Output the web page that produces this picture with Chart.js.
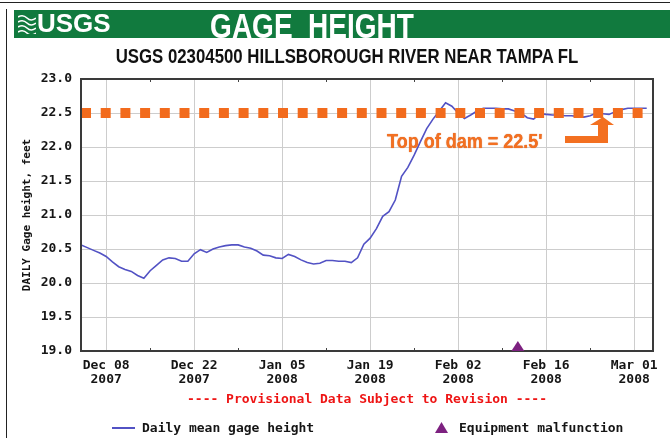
<!DOCTYPE html>
<html>
<head>
<meta charset="utf-8">
<script src="https://cdn.jsdelivr.net/npm/chart.js@4.4.1/dist/chart.umd.min.js"></script>
<style>
  body { margin: 0; background: #fff; }
  #wrap { position: relative; width: 670px; height: 438px; overflow: hidden; font-family: "Liberation Sans", Arial, sans-serif; }
  #chart { position: absolute; left: 0; top: 0; }
  .abs { position: absolute; white-space: nowrap; }
  .mono { font-family: "DejaVu Sans Mono", monospace; font-weight: bold; font-size: 13px; line-height: 16px; color: #151515; }
</style>
</head>
<body>
<div id="wrap">
  <canvas id="chart" width="670" height="438"></canvas>

  <!-- frame + header -->
  <div class="abs" style="left:0;top:2px;width:670px;height:1px;background:#222"></div>
  <div class="abs" style="left:6px;top:9px;width:1px;height:429px;background:#222"></div>
  <div class="abs" style="left:14px;top:10px;width:656px;height:28px;background:#117a3e"></div>
  <svg class="abs" style="left:18px;top:14px" width="18" height="20" viewBox="0 0 18 20">
    <g fill="none" stroke="#fff" stroke-width="1.6">
      <path d="M0 3 Q5 0 9 4 T18 4"/>
      <path d="M0 8 Q5 5 9 9 T18 9"/>
      <path d="M0 13 Q5 10 9 14 T18 14"/>
      <path d="M0 18 Q5 15 9 19 T18 19"/>
    </g>
  </svg>
  <div class="abs" style="left:37px;top:8px;font-weight:bold;font-size:26px;line-height:30px;color:#fff">USGS</div>
  <div class="abs" style="left:312px;top:6px;font-weight:bold;font-size:35px;line-height:40px;color:#fff;transform:translateX(-50%) scaleX(0.8)">GAGE&nbsp;&nbsp;HEIGHT</div>
  <div class="abs" style="left:347px;top:44px;font-weight:bold;font-size:21px;line-height:24px;color:#111;transform:translateX(-50%) scaleX(0.8)">USGS 02304500 HILLSBOROUGH RIVER NEAR TAMPA FL</div>

  <!-- dam annotation -->
  <div class="abs" style="left:387px;top:130px;font-weight:bold;font-size:20px;line-height:22px;color:#f37021;transform-origin:0 0;transform:scaleX(0.9);text-shadow:0 0 1px #c85010">Top of dam = 22.5'</div>
  <svg class="abs" style="left:560px;top:112px" width="60" height="36" viewBox="0 0 60 36">
    <path d="M5 24 H38 V13 H30 L43 5 L54 13 H48 V31 H5 Z" fill="#f37021"/>
  </svg>

  <!-- footer -->
  <div class="abs mono" style="left:81px;top:391px;width:572px;text-align:center;color:#ee1515">---- Provisional Data Subject to Revision ----</div>
  <div class="abs" style="left:112px;top:427px;width:23px;height:1.5px;background:#5252c4"></div>
  <div class="abs mono" style="left:142px;top:420px">Daily mean gage height</div>
  <svg class="abs" style="left:435px;top:422px" width="13" height="11" viewBox="0 0 13 11">
    <path d="M6.5 0 L13 11 H0 Z" fill="#7d2180"/>
  </svg>
  <div class="abs mono" style="left:459px;top:420px">Equipment malfunction</div>
</div>

<script>
// days counted from Dec 08 2007; first value is Dec 04 2007
const startDay = -4;
const gageHeight = [
  20.56, 20.52, 20.48, 20.44, 20.39, 20.31, 20.24, 20.20, 20.17, 20.11,
  20.07, 20.18, 20.26, 20.34, 20.37, 20.36, 20.32, 20.32, 20.43, 20.49,
  20.45, 20.50, 20.53, 20.55, 20.56, 20.56, 20.53, 20.51, 20.47, 20.41,
  20.40, 20.37, 20.36, 20.42, 20.39, 20.34, 20.30, 20.28, 20.29, 20.33,
  20.33, 20.32, 20.32, 20.30, 20.37, 20.57, 20.66, 20.80, 20.98, 21.05,
  21.22, 21.57, 21.70, 21.88, 22.08, 22.27, 22.41, 22.53, 22.65, 22.60,
  22.50, 22.42, 22.47, 22.53, 22.57, 22.57, 22.57, 22.56, 22.56, 22.53,
  22.50, 22.43, 22.41, 22.49, 22.48, 22.47, 22.47, 22.46, 22.46, 22.45,
  22.44, 22.46, 22.50, 22.49, 22.48, 22.52, 22.55, 22.57, 22.57, 22.57,
  22.57
];
const tickDays = [0, 14, 28, 42, 56, 70, 84];
const tickLabels = [
  ['Dec 08', '2007'], ['Dec 22', '2007'], ['Jan 05', '2008'], ['Jan 19', '2008'],
  ['Feb 02', '2008'], ['Feb 16', '2008'], ['Mar 01', '2008']
];
const minorTickDays = [7, 21, 35, 49, 63, 77];
const damHeight = 22.5;
const damDays = [-4, 86];
const malfunctionDays = [65.5];

const frame = {
  id: 'frame',
  afterDraw(chart) {
    const { ctx, chartArea: a, scales } = chart;
    ctx.save();
    // weekly minor ticks, inside top and bottom
    ctx.strokeStyle = '#444';
    ctx.lineWidth = 1;
    minorTickDays.forEach(d => {
      const x = Math.round(scales.x.getPixelForValue(d)) + 0.5;
      ctx.beginPath();
      ctx.moveTo(x, a.bottom); ctx.lineTo(x, a.bottom - 3);
      ctx.moveTo(x, a.top); ctx.lineTo(x, a.top + 3);
      ctx.stroke();
    });
    ctx.strokeStyle = '#3a3a3a';
    ctx.lineWidth = 2;
    ctx.strokeRect(a.left, a.top, a.right - a.left, a.bottom - a.top);
    // equipment malfunction markers
    ctx.fillStyle = '#7d2180';
    malfunctionDays.forEach(d => {
      const x = scales.x.getPixelForValue(d);
      ctx.beginPath();
      ctx.moveTo(x, a.bottom - 10);
      ctx.lineTo(x + 6.5, a.bottom);
      ctx.lineTo(x - 6.5, a.bottom);
      ctx.closePath();
      ctx.fill();
    });
    ctx.restore();
  }
};

new Chart(document.getElementById('chart'), {
  type: 'line',
  data: {
    datasets: [
      {
        label: 'Top of dam',
        data: damDays.map(d => ({ x: d, y: damHeight })),
        borderColor: '#f26b1d',
        borderWidth: 10,
        borderDash: [10, 9.7],
        borderCapStyle: 'butt',
        pointRadius: 0
      },
      {
        label: 'Daily mean gage height',
        data: gageHeight.map((v, i) => ({ x: startDay + i, y: v })),
        borderColor: '#5252c4',
        borderWidth: 1.6,
        pointRadius: 0,
        tension: 0
      }
    ]
  },
  options: {
    responsive: false,
    animation: false,
    layout: { padding: { top: 79, right: 17, left: 0, bottom: 0 } },
    plugins: { legend: { display: false }, tooltip: { enabled: false } },
    scales: {
      x: {
        type: 'linear',
        min: -4,
        max: 87,
        afterBuildTicks: s => { s.ticks = tickDays.map(v => ({ value: v })); },
        afterFit: s => { s.height = 87; },
        grid: { color: '#cdcdcd', drawTicks: false },
        border: { display: false },
        ticks: {
          autoSkip: false,
          maxRotation: 0,
          padding: 8,
          color: '#151515',
          font: { family: 'DejaVu Sans Mono', size: 13, weight: 'bold', lineHeight: 1.05 },
          callback: (v, i) => tickLabels[i]
        }
      },
      y: {
        min: 19,
        max: 23,
        afterFit: s => { s.width = 81; },
        grid: { color: '#cdcdcd', drawTicks: false },
        border: { display: false },
        ticks: {
          stepSize: 0.5,
          padding: 9,
          color: '#151515',
          font: { family: 'DejaVu Sans Mono', size: 13, weight: 'bold' },
          callback: v => v.toFixed(1)
        },
        title: {
          display: true,
          text: 'DAILY Gage height, feet',
          color: '#151515',
          padding: { top: 21, bottom: 0 },
          font: { family: 'DejaVu Sans Mono', size: 11, weight: 'bold' }
        }
      }
    }
  },
  plugins: [frame]
});
</script>
</body>
</html>
